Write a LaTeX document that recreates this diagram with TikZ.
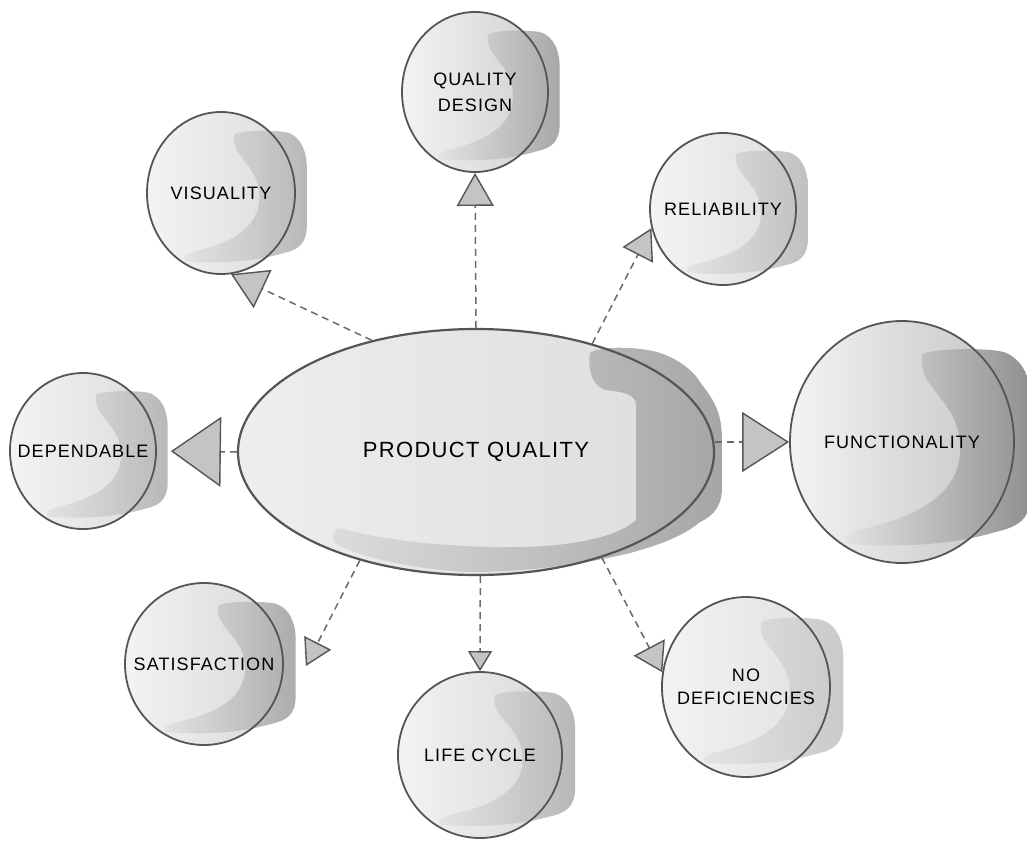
\documentclass[tikz,border=0pt]{standalone}
\usepackage{fontspec}
\newfontfamily\lbl[LetterSpace=6]{Liberation Sans}
\usetikzlibrary{shapes.geometric,arrows.meta}
\definecolor{edge}{HTML}{555555}
\definecolor{bubL}{HTML}{F3F3F3}
\definecolor{blobL}{HTML}{E4E4E4}
\definecolor{lineC}{HTML}{6A6A6A}
\definecolor{tipF}{HTML}{C4C4C4}
\definecolor{pqL}{HTML}{EEEEEE}
\definecolor{pqR}{HTML}{DCDCDC}
\definecolor{pqBL}{HTML}{DCDCDC}
\definecolor{pqBR}{HTML}{A6A6A6}
\tikzset{
  bubble/.style={ellipse, draw=edge, line width=1.8pt, inner sep=0pt,
    text=black, font=\lbl\fontsize{18}{26}\selectfont},
  link/.style={draw=lineC, line width=1.5pt, dash pattern=on 7pt off 5pt},
  gen/.style 2 args={arrows={-{Triangle[length=#1pt,width=#2pt,fill=tipF,color=edge,line width=1.4pt]}}},
}
\newcommand\two[2]{\shortstack{#1\\[7pt]#2}}
% #1 name, #2 cx, #3 cy, #4 rx, #5 ry, #6 text, #7 fill right colour, #8 blob right colour
\newcommand\bubble[8]{%
  \definecolor{tmpR}{HTML}{#7}\definecolor{tmpB}{HTML}{#8}%
  \shade[left color=bubL, right color=tmpR] (#2,#3) ellipse [x radius=#4pt, y radius=#5pt];
  \shade[left color=blobL, right color=tmpB, shift={(#2,#3)}, xscale=#4, yscale=#5]
    (0.18,-0.72) .. controls (0.25,-0.78) and (0.80,-0.78) .. (0.92,-0.74)
    .. controls (1.08,-0.68) and (1.16,-0.52) .. (1.16,-0.30) -- (1.16,0.40)
    .. controls (1.16,0.62) and (1.05,0.70) .. (0.85,0.74)
    .. controls (0.5,0.84) and (0.0,0.88) .. (-0.48,0.84)
    .. controls (-0.55,0.80) and (-0.45,0.74) .. (-0.35,0.72)
    .. controls (0.10,0.62) and (0.52,0.45) .. (0.52,0.05)
    .. controls (0.52,-0.35) and (0.12,-0.45) .. (0.18,-0.72) -- cycle;
  \node[bubble, minimum width=2*#4pt, minimum height=2*#5pt] (#1) at (#2,#3) {\makebox[0pt]{#6}};
}
\begin{document}
\begin{tikzpicture}[x=1pt,y=-1pt]
\useasboundingbox (0,0) rectangle (1027,843);
% central ellipse
\shade[left color=pqL, right color=pqR] (476,452) ellipse [x radius=238pt, y radius=123pt];
\shade[left color=pqBL, right color=pqBR]
  (590,353) .. controls (600,346) and (630,347) .. (647,350)
  .. controls (665,352) and (690,365) .. (700,382)
  .. controls (712,398) and (722,410) .. (722,440) -- (722,487)
  .. controls (722,505) and (715,515) .. (700,522)
  .. controls (685,535) and (660,545) .. (630,553)
  .. controls (590,563) and (530,572) .. (470,572)
  .. controls (420,570) and (360,558) .. (336,544)
  .. controls (330,535) and (335,528) .. (340,528)
  .. controls (380,540) and (450,548) .. (520,547)
  .. controls (580,546) and (620,535) .. (636,520)
  .. controls (636,480) and (636,430) .. (636,405)
  .. controls (636,395) and (625,392) .. (605,390)
  .. controls (590,385) and (588,365) .. (590,353) -- cycle;
\node[ellipse, draw=edge, line width=2.2pt, inner sep=0pt, minimum width=476pt,
  minimum height=246pt, font=\lbl\fontsize{22}{26}\selectfont] (pq) at (476,452) {PRODUCT QUALITY};
% satellites
\bubble{qd}{475}{92}{73}{80}{\two{QUALITY}{DESIGN}}{D0D0D0}{A8A8A8}
\bubble{vis}{221}{193}{74}{81}{VISUALITY}{DCDCDC}{B8B8B8}
\bubble{rel}{723}{209}{73}{76}{RELIABILITY}{DEDEDE}{C0C0C0}
\bubble{dep}{83}{451}{73}{78}{DEPENDABLE}{DCDCDC}{B8B8B8}
\bubble{func}{902}{442}{112}{121}{FUNCTIONALITY}{C4C4C4}{909090}
\bubble{sat}{204}{664}{79}{81}{SATISFACTION}{D8D8D8}{ACACAC}
\bubble{lc}{480}{755}{82}{83}{LIFE CYCLE}{D8D8D8}{B8B8B8}
\bubble{nd}{746}{687}{84}{90}{\two{NO}{DEFICIENCIES}}{E0E0E0}{CACACA}
% connectors
\draw[link, gen={33}{37}] (pq.north) -- (qd.south);
\draw[link, gen={35}{42}] (pq.133) -- (vis.277);
\draw[link, gen={30}{34}] (pq.43) -- (rel.195);
\draw[link, gen={50}{70}, shorten >=14pt] (pq.west) -- (dep.east);
\draw[link, gen={47}{60}] (pq.east |- func.west) -- (func.west);
\draw[link, gen={26}{30}] (pq.223) -- ([shift={(22,2)}]sat.east);
\draw[link, gen={20}{24}] (pq.-88) -- (lc.north);
\draw[link, gen={28}{35}] (pq.-40) -- (nd.170);
\end{tikzpicture}
\end{document}
